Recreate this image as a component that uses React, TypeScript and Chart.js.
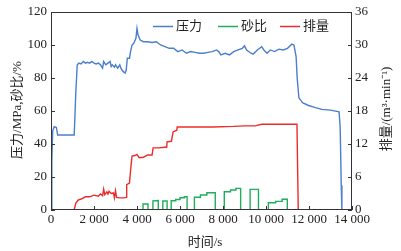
import React, { useEffect, useRef } from "react";
import { Chart, registerables } from "chart.js";

Chart.register(...registerables);

// 压力 (MPa) vs time (s)
const pressureTime = [0, 40, 80, 150, 250, 310, 600, 1000, 1080, 1150, 1220, 1300, 1400, 1500, 1600, 1700, 1800, 1900, 2000, 2100, 2200, 2300, 2400, 2450, 2550, 2650, 2750, 2800, 2850, 2950, 3000, 3100, 3200, 3250, 3350, 3450, 3500, 3550, 3650, 3700, 3770, 3850, 3950, 4000, 4050, 4150, 4300, 4500, 4700, 4900, 5100, 5300, 5500, 5700, 5900, 6100, 6300, 6500, 6700, 6900, 7100, 7300, 7500, 7700, 7800, 7900, 8100, 8300, 8500, 8700, 8900, 9000, 9100, 9300, 9400, 9600, 9800, 9900, 10050, 10200, 10400, 10600, 10800, 11000, 11200, 11300, 11400, 11450, 11530, 11700, 11950, 12300, 12600, 13000, 13400, 13450, 13500, 13530];
const pressureValue = [0, 30, 48, 50.5, 50, 45.5, 45.5, 45.5, 45.5, 70, 88, 89, 88.5, 90, 89, 89.5, 89, 90, 89, 88.5, 89, 88, 86, 90, 88, 89, 90, 87, 88, 86.5, 88, 86, 88, 86, 84, 83, 85, 92, 92, 96, 100, 101, 104, 110, 106, 103, 102, 102, 101.5, 102, 100, 99, 98, 98, 96, 97, 95, 96, 95.5, 95, 95, 95.5, 96, 97, 96, 94, 95, 94, 96, 97, 98, 99.5, 97, 95, 94.5, 97, 99, 97, 95, 97, 96, 97.5, 97, 98, 100.5, 100, 93, 80, 68, 65, 63.5, 62, 61, 60.5, 59.5, 50, 15, 0];

// 砂比 (%) vs time (s)
const sandTime = [1080, 4280, 4280, 4510, 4510, 4740, 4740, 4990, 4990, 5200, 5200, 5400, 5400, 5590, 5590, 5800, 5800, 6000, 6000, 6200, 6200, 6330, 6330, 6670, 6670, 6950, 6950, 7250, 7250, 7640, 7640, 8060, 8060, 8350, 8350, 8600, 8600, 8820, 8820, 9260, 9260, 9650, 9650, 10110, 10110, 10450, 10450, 10750, 10750, 10990, 10990, 11450];
const sandValue = [0, 0, 3.6, 3.6, 0, 0, 5.5, 5.8, 0, 0, 5.5, 5.5, 0, 0, 5.6, 5.6, 6.4, 6.4, 7.4, 7.4, 8.0, 8.0, 0, 0, 7.7, 7.7, 9.1, 9.1, 10.5, 10.5, 0, 0, 11.1, 11.1, 12.1, 12.1, 13.1, 13.1, 0, 0, 12.5, 12.5, 0, 0, 4.4, 4.4, 5.2, 5.2, 6.5, 6.5, 0, 0];

// 排量 (m3/min) vs time (s)
const rateTime = [0, 1080, 1150, 1260, 1400, 1600, 1800, 2000, 2200, 2300, 2400, 2450, 2500, 2600, 2650, 2700, 2800, 2900, 2950, 3000, 3050, 3200, 3400, 3500, 3520, 3650, 3720, 3770, 3900, 4000, 4100, 4300, 4500, 4700, 4750, 5000, 5300, 5380, 5400, 5600, 5680, 5850, 5870, 6500, 7500, 8500, 9000, 9500, 9800, 10500, 11000, 11440, 11500, 14000];
const rateValue = [0, 0, 1.2, 1.8, 2.0, 2.4, 2.4, 2.7, 2.5, 2.9, 2.6, 3.8, 2.8, 3.3, 2.9, 3.4, 3.0, 3.1, 2.2, 3.5, 2.3, 2.2, 2.2, 2.3, 4.6, 4.9, 8.0, 9.8, 9.9, 10.1, 9.5, 9.6, 10.0, 10.0, 11.3, 11.3, 11.4, 11.4, 12.4, 12.5, 14.2, 14.5, 15.1, 15.1, 15.1, 15.2, 15.3, 15.3, 15.6, 15.6, 15.6, 15.6, 0, 0];

const xTicks = [0, 2000, 4000, 6000, 8000, 10000, 12000, 14000];
const leftTicks = [0, 20, 40, 60, 80, 100, 120];
const rightTicks = [0, 6, 12, 18, 24, 30, 36];

const legendLabels = ["压力", "砂比", "排量"];
const xTitle = "时间/s";
const leftTitle = "压力/MPa,砂比/%";
const rightTitle = "排量/(m³·min⁻¹)";

const BLUE = "#4a7fcb";
const GREEN = "#22ad5c";
const RED = "#ee2b2b";
const FONT = "'Liberation Serif', 'Noto Sans CJK SC', serif";
const AXIS = "#333333";

function pts(xs: number[], ys: number[]) {
  return xs.map((x, i) => ({ x, y: ys[i] }));
}

function fmt(v: number) {
  const s = String(v);
  if (v >= 1000) return s.slice(0, s.length - 3) + " " + s.slice(s.length - 3);
  return s;
}

const decor = {
  id: "decor",
  afterDraw(chart: any) {
    const ctx = chart.ctx;
    const a = chart.chartArea;
    ctx.save();
    // frame
    ctx.strokeStyle = AXIS;
    ctx.lineWidth = 1;
    ctx.strokeRect(a.left + 0.5, a.top + 0.5, a.right - a.left - 1, a.bottom - a.top - 1);
    // inner ticks
    ctx.beginPath();
    const xs = chart.scales.x;
    xTicks.forEach((t) => {
      const px = Math.round(xs.getPixelForValue(t)) + 0.5;
      ctx.moveTo(px, a.bottom);
      ctx.lineTo(px, a.bottom - 4);
    });
    const ys = chart.scales.y;
    leftTicks.forEach((t) => {
      const py = Math.round(ys.getPixelForValue(t)) + 0.5;
      ctx.moveTo(a.left, py);
      ctx.lineTo(a.left + 4, py);
    });
    const y2 = chart.scales.y2;
    rightTicks.forEach((t) => {
      const py = Math.round(y2.getPixelForValue(t)) + 0.5;
      ctx.moveTo(a.right, py);
      ctx.lineTo(a.right - 4, py);
    });
    ctx.stroke();

    // legend
    const items = [
      { x: 153, c: BLUE, t: legendLabels[0] },
      { x: 218, c: GREEN, t: legendLabels[1] },
      { x: 280, c: RED, t: legendLabels[2] },
    ];
    ctx.font = "13px " + FONT;
    ctx.textBaseline = "middle";
    ctx.textAlign = "left";
    items.forEach((it) => {
      ctx.strokeStyle = it.c;
      ctx.lineWidth = 1.5;
      ctx.beginPath();
      ctx.moveTo(it.x, 26.5);
      ctx.lineTo(it.x + 20, 26.5);
      ctx.stroke();
      ctx.fillStyle = "#222";
      ctx.fillText(it.t, it.x + 23, 27);
    });

    // axis titles
    ctx.fillStyle = "#222";
    ctx.font = "13px " + FONT;
    ctx.textAlign = "center";
    ctx.textBaseline = "middle";
    ctx.fillText(xTitle, 205, 243);
    ctx.save();
    ctx.translate(18, 110);
    ctx.rotate(-Math.PI / 2);
    ctx.fillText(leftTitle, 0, 0);
    ctx.restore();
    ctx.save();
    ctx.translate(387, 109);
    ctx.rotate(-Math.PI / 2);
    ctx.fillText(rightTitle, 0, 0);
    ctx.restore();
    ctx.restore();
  },
};

export default function App() {
  const ref = useRef<HTMLCanvasElement>(null);
  useEffect(() => {
    if (!ref.current) return;
    const tickFont = { family: FONT, size: 13 };
    const chart = new Chart(ref.current, {
      type: "line",
      data: {
        datasets: [
          { label: legendLabels[0], data: pts(pressureTime, pressureValue), borderColor: BLUE, borderWidth: 1.4, yAxisID: "y" },
          { label: legendLabels[1], data: pts(sandTime, sandValue), borderColor: GREEN, borderWidth: 1.4, yAxisID: "y" },
          { label: legendLabels[2], data: pts(rateTime, rateValue), borderColor: RED, borderWidth: 1.4, yAxisID: "y2" },
        ],
      },
      options: {
        animation: false,
        responsive: false,
        maintainAspectRatio: false,
        layout: { padding: { top: 12, left: 0, right: 0, bottom: 0 } },
        elements: { point: { radius: 0 }, line: { tension: 0 } },
        plugins: { legend: { display: false }, tooltip: { enabled: false } },
        scales: {
          x: {
            type: "linear",
            min: 0,
            max: 14000,
            afterFit: (s: any) => { s.height = 41; },
            afterBuildTicks: (s: any) => { s.ticks = xTicks.map((v) => ({ value: v })); },
            ticks: { color: "#222", font: tickFont, padding: 2, maxRotation: 0, callback: (v: any) => fmt(Number(v)) },
            grid: { display: false, drawTicks: false },
            border: { display: false },
          },
          y: {
            position: "left",
            min: 0,
            max: 120,
            afterFit: (s: any) => { s.width = 51; },
            afterBuildTicks: (s: any) => { s.ticks = leftTicks.map((v) => ({ value: v })); },
            ticks: { color: "#222", font: tickFont, padding: 4 },
            grid: { display: false, drawTicks: false },
            border: { display: false },
          },
          y2: {
            position: "right",
            min: 0,
            max: 36,
            afterFit: (s: any) => { s.width = 49; },
            afterBuildTicks: (s: any) => { s.ticks = rightTicks.map((v) => ({ value: v })); },
            ticks: { color: "#222", font: tickFont, padding: 3 },
            grid: { display: false, drawTicks: false },
            border: { display: false },
          },
        },
      },
      plugins: [decor],
    } as any);
    return () => chart.destroy();
  }, []);
  return (
    <div style={{ position: "fixed", left: 0, top: 0, width: 401, height: 251, background: "#fff" }}>
      <canvas ref={ref} width={401} height={251} style={{ width: 401, height: 251, display: "block" }} />
    </div>
  );
}
